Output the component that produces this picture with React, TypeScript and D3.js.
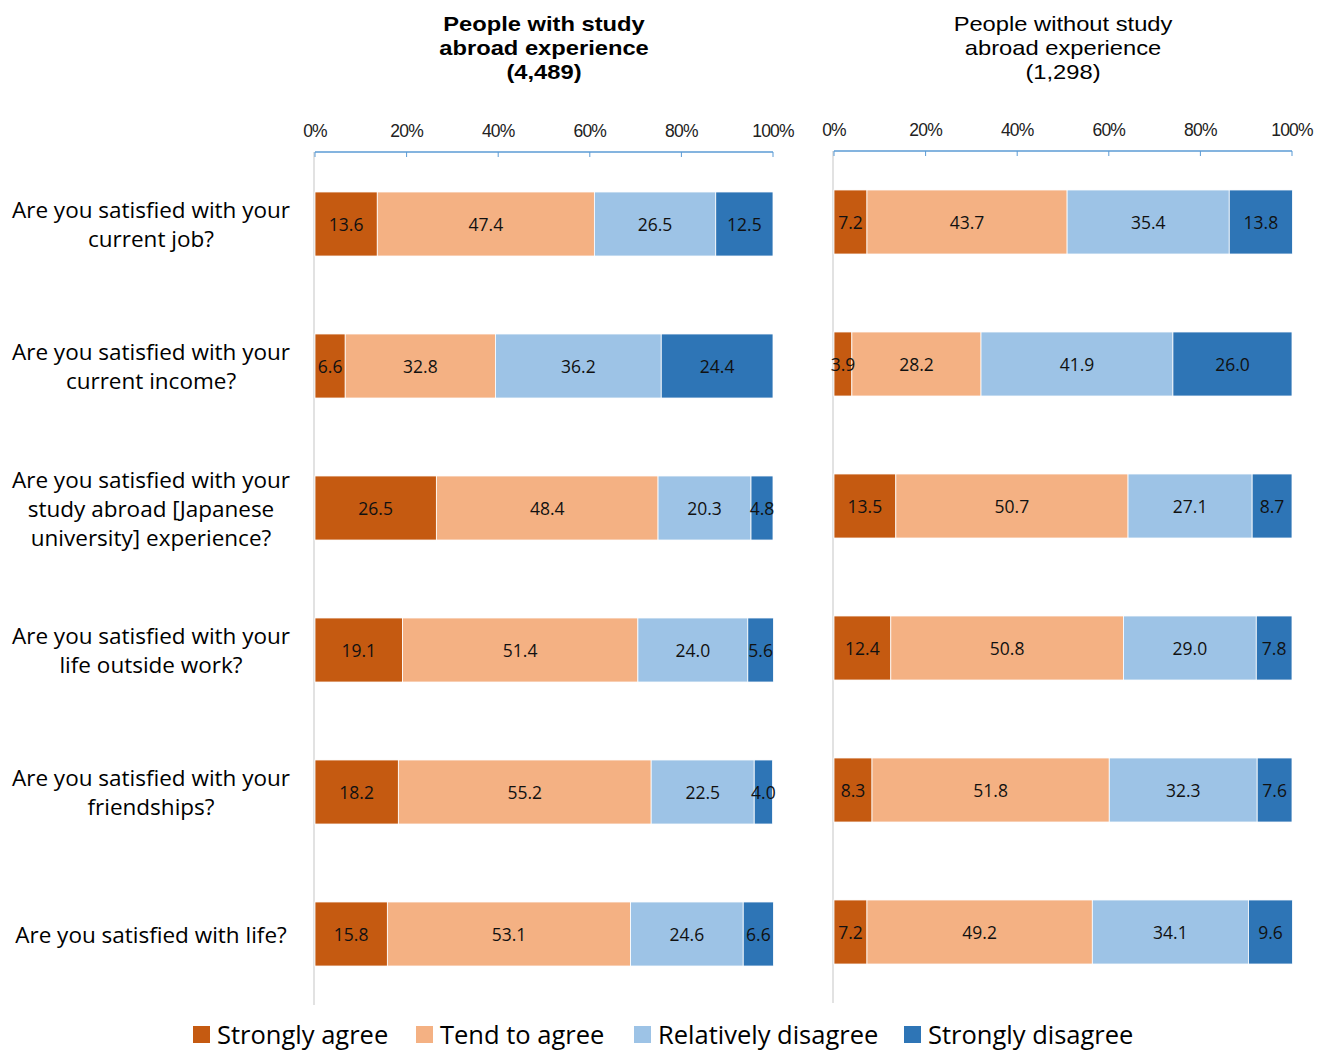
import React from "react";
import * as d3 from "d3";

const questions: string[][] = [
  ["Are you satisfied with your", "current job?"],
  ["Are you satisfied with your", "current income?"],
  ["Are you satisfied with your", "study abroad [Japanese", "university] experience?"],
  ["Are you satisfied with your", "life outside work?"],
  ["Are you satisfied with your", "friendships?"],
  ["Are you satisfied with life?"],
];

const seriesNames = ["Strongly agree", "Tend to agree", "Relatively disagree", "Strongly disagree"];
const colors = ["#C55A11", "#F4B183", "#9DC3E6", "#2E75B6"];

const withAbroad: number[][] = [
  [13.6, 47.4, 26.5, 12.5],
  [6.6, 32.8, 36.2, 24.4],
  [26.5, 48.4, 20.3, 4.8],
  [19.1, 51.4, 24.0, 5.6],
  [18.2, 55.2, 22.5, 4.0],
  [15.8, 53.1, 24.6, 6.6],
];

const withoutAbroad: number[][] = [
  [7.2, 43.7, 35.4, 13.8],
  [3.9, 28.2, 41.9, 26.0],
  [13.5, 50.7, 27.1, 8.7],
  [12.4, 50.8, 29.0, 7.8],
  [8.3, 51.8, 32.3, 7.6],
  [7.2, 49.2, 34.1, 9.6],
];

const tickValues = [0, 20, 40, 60, 80, 100];

const titleLeft = ["People with study", "abroad experience", "(4,489)"];
const titleRight = ["People without study", "abroad experience", "(1,298)"];

const FONT = "'Open Sans', 'Noto Sans', sans-serif";
const TICKFONT = "'Liberation Sans', Arial, sans-serif";

function Panel({ data, x0, x1, axisY, firstCenter, bottom, title, bold }: any) {
  const x = d3.scaleLinear().domain([0, 100]).range([x0, x1]);
  const y = d3
    .scaleBand<number>()
    .domain(d3.range(data.length))
    .range([firstCenter - 71, firstCenter - 71 + 142 * data.length])
    .paddingInner(0.549)
    .paddingOuter(0.2745);
  const cx = (x0 + x1) / 2;
  const segs: any[] = [];
  data.forEach((row: number[], i: number) => {
    let cum = 0;
    row.forEach((v, j) => {
      const a = cum;
      cum += v;
      segs.push({ i, j, v, xa: x(a), xb: x(Math.min(cum, 100.2)), top: y(i)!, h: y.bandwidth() });
    });
  });
  return (
    <g>
      {title.map((t: string, i: number) => (
        <text
          key={i}
          transform={`translate(${cx},${24 + i * 24}) scale(1.14,1)`}
          x={0}
          y={0}
          textAnchor="middle"
          dominantBaseline="central"
          fontFamily={TICKFONT}
          fontSize={20.8}
          fontWeight={bold ? 700 : 400}
          fill="#000"
        >
          {t}
        </text>
      ))}
      <line x1={x0 - 1} x2={x0 - 1} y1={axisY} y2={bottom} stroke="#D9D9D9" strokeWidth={1.5} />
      <line x1={x0} x2={x1} y1={axisY} y2={axisY} stroke="#5B9BD5" strokeWidth={1.5} />
      {tickValues.map((v) => (
        <g key={v}>
          <line x1={x(v)} x2={x(v)} y1={axisY} y2={axisY + 5} stroke="#5B9BD5" strokeWidth={1} />
          <text
            x={x(v)}
            y={axisY - 21}
            textAnchor="middle"
            dominantBaseline="central"
            fontFamily={TICKFONT}
            fontSize={17.5}
            fill="#222"
            letterSpacing={-0.8}
          >
            {v}%
          </text>
        </g>
      ))}
      {segs.map((s) => (
        <rect key={`r${s.i}-${s.j}`} x={s.xa} y={s.top} width={s.xb - s.xa} height={s.h} fill={colors[s.j]} stroke="#fff" strokeWidth={0.8} />
      ))}
      {segs.map((s) => (
        <text
          key={`t${s.i}-${s.j}`}
          x={(s.xa + s.xb) / 2}
          y={s.top + s.h / 2}
          textAnchor="middle"
          dominantBaseline="central"
          fontFamily={FONT}
          fontSize={17.5}
          fill="#111"
        >
          {s.v.toFixed(1)}
        </text>
      ))}
    </g>
  );
}

export default function App() {
  const rowCenters = d3.range(questions.length).map((i) => 224 + i * 142);
  const legendX = [193, 416, 634, 904];
  return (
    <svg width={1330} height={1051} style={{ display: "block", position: "absolute", left: 0, top: 0, background: "#fff" }}>
      <rect width={1330} height={1051} fill="#fff" />
      {questions.map((lines, i) => {
        const n = lines.length;
        return lines.map((l, k) => (
          <text
            key={i + "-" + k}
            x={151}
            y={rowCenters[i] + (k - (n - 1) / 2) * 29}
            textAnchor="middle"
            dominantBaseline="central"
            fontFamily={FONT}
            fontSize={22.5}
            fill="#000"
          >
            {l}
          </text>
        ));
      })}
      <Panel data={withAbroad} x0={315} x1={773} axisY={152} firstCenter={224} bottom={1005} title={titleLeft} bold />
      <Panel data={withoutAbroad} x0={834} x1={1292} axisY={151} firstCenter={222} bottom={1003} title={titleRight} bold={false} />
      {seriesNames.map((s, i) => (
        <g key={s}>
          <rect x={legendX[i]} y={1026} width={17} height={17} fill={colors[i]} />
          <text x={legendX[i] + 24} y={1034} dominantBaseline="central" fontFamily={FONT} fontSize={25.5} fill="#000">
            {s}
          </text>
        </g>
      ))}
    </svg>
  );
}
